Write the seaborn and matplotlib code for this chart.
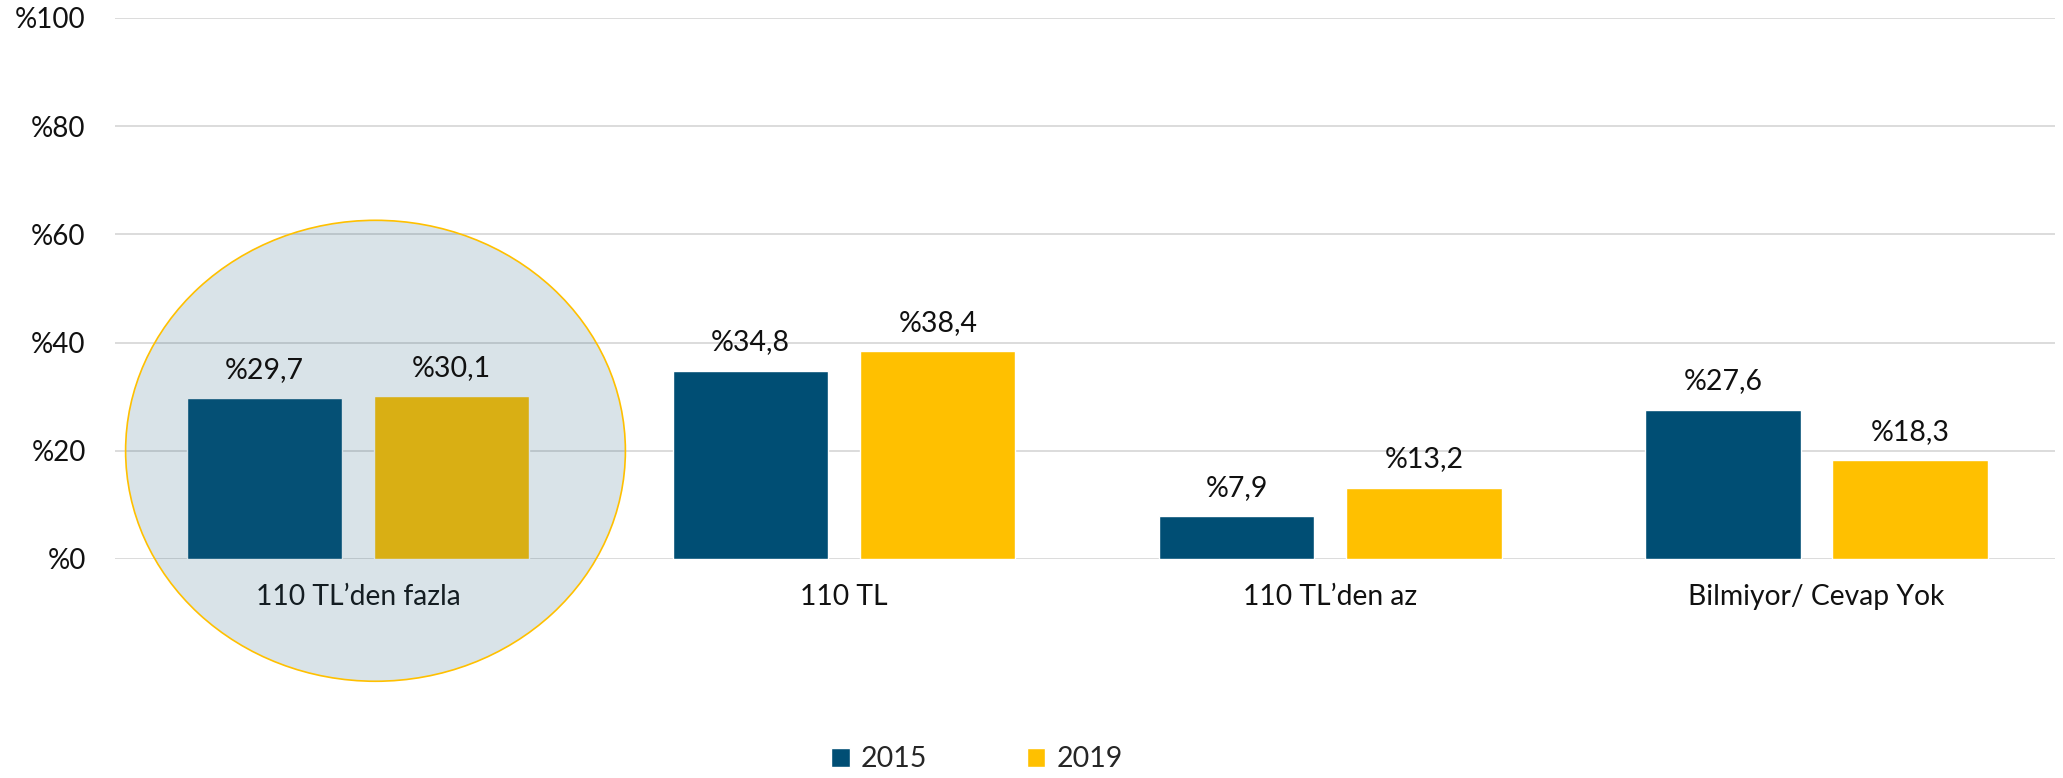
import pandas as pd
import seaborn as sns
import matplotlib.pyplot as plt
from matplotlib.patches import Ellipse, Patch

# Data
categories = ["110 TL’den fazla", "110 TL", "110 TL’den az", "Bilmiyor/ Cevap Yok"]
years = ["2015", "2019"]
values_2015 = [29.7, 34.8, 7.9, 27.6]
values_2019 = [30.1, 38.4, 13.2, 18.3]
y_ticks = [0, 20, 40, 60, 80, 100]

BLUE = "#004E74"
YELLOW = "#FFC000"

df = pd.DataFrame({
    "kategori": categories * 2,
    "yil": [years[0]] * 4 + [years[1]] * 4,
    "oran": values_2015 + values_2019,
})

sns.set_theme(style="white")
plt.rcParams["font.family"] = ["Lato", "DejaVu Sans"]

fig = plt.figure(figsize=(20.63, 7.78), dpi=100)
ax = fig.add_axes([0.0557, 0.2815, 0.9403, 0.6954])

sns.barplot(data=df, x="kategori", y="oran", hue="yil", palette=[BLUE, YELLOW],
            width=0.77, gap=0.17, ax=ax, legend=False, saturation=1)

# value labels
for cont in ax.containers:
    labels = ["%" + f"{b.get_height():.1f}".replace(".", ",") for b in cont]
    ax.bar_label(cont, labels=labels, padding=11, fontsize=20.5, color="#111111", zorder=4)

# highlight ellipse over the first group
ell = Ellipse((0.036, 20.0), width=1.028, height=85.2,
              facecolor=(35 / 255, 93 / 255, 122 / 255, 0.17),
              edgecolor=YELLOW, linewidth=1.2, zorder=2, clip_on=False)
ax.add_patch(ell)

ax.set_ylim(0, 100)
ax.set_xlim(-0.5, 3.49)
ax.set_yticks(y_ticks)
ax.set_yticklabels(["%" + str(t) for t in y_ticks])
ax.yaxis.grid(True, color="#D9D9D9", linewidth=1.3)
ax.set_axisbelow(True)
for s in ax.spines.values():
    s.set_visible(False)
ax.tick_params(axis="y", length=0, pad=21, labelsize=20, labelcolor="#111111")
ax.tick_params(axis="x", length=0, pad=18, labelsize=20.3, labelcolor="#111111")
ax.set_xlabel("")
ax.set_ylabel("")

handles = [Patch(facecolor=BLUE, label=years[0]), Patch(facecolor=YELLOW, label=years[1])]
fig.legend(handles=handles, loc="center", bbox_to_anchor=(0.4736, 0.0244), ncol=2,
           frameon=False, fontsize=20.5, handlelength=0.65, handleheight=0.65,
           handletextpad=0.4, columnspacing=3.5)

plt.savefig("out.png", dpi=100)
